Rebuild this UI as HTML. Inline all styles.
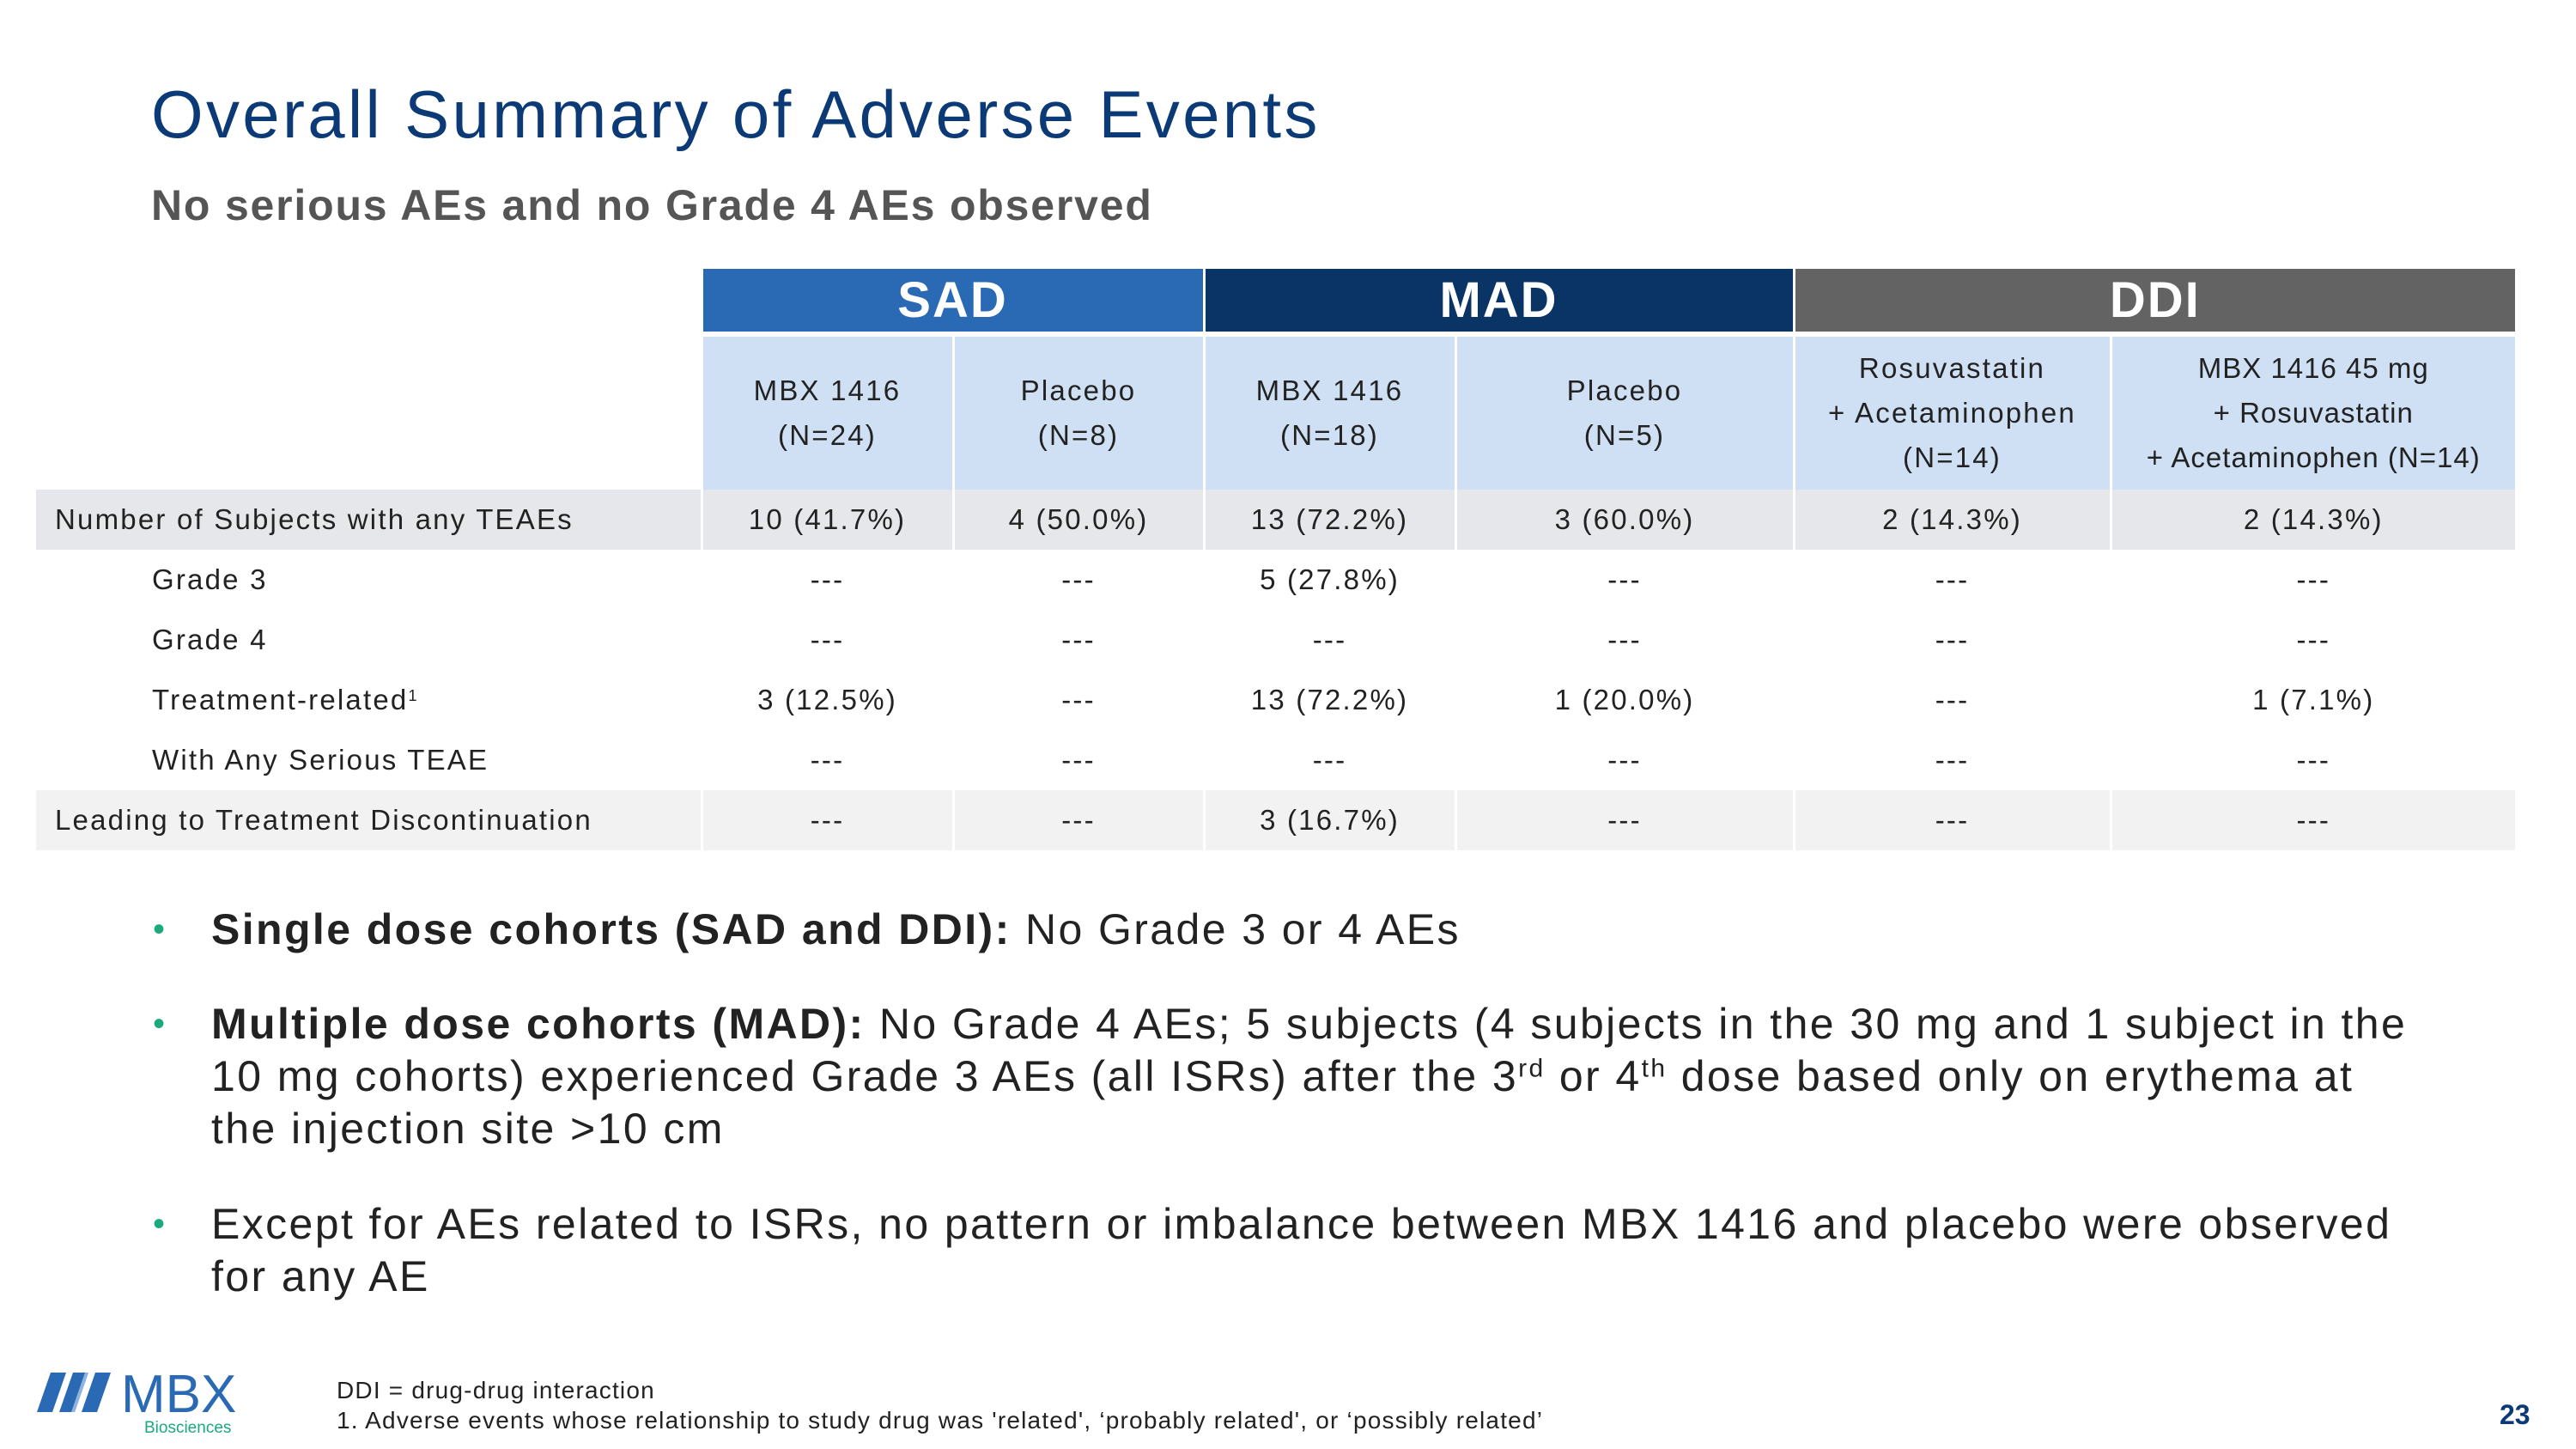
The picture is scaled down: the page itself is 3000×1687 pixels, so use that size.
<!DOCTYPE html>
<html><head><meta charset="utf-8"><style>
body{margin:0;width:3000px;height:1687px;background:#fff;font-family:"Liberation Sans",sans-serif;position:relative;overflow:hidden;color:#222}
.a{position:absolute}
.title{left:176px;top:88px;font-size:78px;color:#0b3a76;white-space:nowrap;letter-spacing:3.3px}
.sub{left:176px;top:210px;font-size:50px;font-weight:bold;color:#555;white-space:nowrap;letter-spacing:1.8px}
table{position:absolute;left:42px;top:313px;width:2887px;border-collapse:collapse;table-layout:fixed}
td{padding:0;text-align:center;font-size:33px;color:#222;border-left:3px solid #fff;letter-spacing:2.2px;white-space:nowrap}
td:first-child{border-left:none}
.grp{height:73px;color:#fff;font-weight:bold;font-size:58px;border-bottom:6px solid #fff;letter-spacing:2px}
.sh td.c{background:#cfe0f4;height:178px;line-height:52px}
.r td{height:70px}
.g td{background:#e6e7ea}
.g2 td{background:#f2f2f2}
.lab{text-align:left;padding-left:22px}
.ind{text-align:left;padding-left:135px}
.bul{left:178px;font-size:50px;color:#222;line-height:61px;width:2800px;letter-spacing:2.4px}
.bul .dot{position:absolute;left:0;color:#1aaa7d;font-size:40px}
.bul .t{margin-left:68px}
sup{line-height:0;vertical-align:0.55em}
.fn{left:392px;font-size:28px;color:#222;white-space:nowrap;letter-spacing:1.2px}
</style></head><body>
<div class="a title">Overall Summary of Adverse Events</div>
<div class="a sub">No serious AEs and no Grade 4 AEs observed</div>
<table>
<colgroup><col style="width:775px"><col style="width:293px"><col style="width:292px"><col style="width:293px"><col style="width:394px"><col style="width:369px"><col style="width:471px"></colgroup>
<tr><td style="background:#fff;border-bottom:none"></td>
<td colspan="2" class="grp" style="background:#2a69b3">SAD</td>
<td colspan="2" class="grp" style="background:#0a3466">MAD</td>
<td colspan="2" class="grp" style="background:#636363">DDI</td></tr>
<tr class="sh"><td></td>
<td class="c">MBX 1416<br>(N=24)</td><td class="c">Placebo<br>(N=8)</td><td class="c">MBX 1416<br>(N=18)</td><td class="c">Placebo<br>(N=5)</td><td class="c">Rosuvastatin<br>+ Acetaminophen<br>(N=14)</td><td class="c" style="letter-spacing:1px">MBX 1416 45 mg<br>+ Rosuvastatin<br>+ Acetaminophen (N=14)</td></tr>
<tr class="r g"><td class="lab">Number of Subjects with any TEAEs</td><td>10 (41.7%)</td><td>4 (50.0%)</td><td>13 (72.2%)</td><td>3 (60.0%)</td><td>2 (14.3%)</td><td>2 (14.3%)</td></tr>
<tr class="r"><td class="ind">Grade 3</td><td>---</td><td>---</td><td>5 (27.8%)</td><td>---</td><td>---</td><td>---</td></tr>
<tr class="r"><td class="ind">Grade 4</td><td>---</td><td>---</td><td>---</td><td>---</td><td>---</td><td>---</td></tr>
<tr class="r"><td class="ind">Treatment-related<sup style="font-size:18px">1</sup></td><td>3 (12.5%)</td><td>---</td><td>13 (72.2%)</td><td>1 (20.0%)</td><td>---</td><td>1 (7.1%)</td></tr>
<tr class="r"><td class="ind">With Any Serious TEAE</td><td>---</td><td>---</td><td>---</td><td>---</td><td>---</td><td>---</td></tr>
<tr class="r g2"><td class="lab">Leading to Treatment Discontinuation</td><td>---</td><td>---</td><td>3 (16.7%)</td><td>---</td><td>---</td><td>---</td></tr>
</table>
<div class="a bul" style="top:1052px"><span class="dot">•</span><div class="t"><b>Single dose cohorts (SAD and DDI):</b> No Grade 3 or 4 AEs</div></div>
<div class="a bul" style="top:1162px"><span class="dot">•</span><div class="t"><b>Multiple dose cohorts (MAD):</b> No Grade 4 AEs; 5 subjects (4 subjects in the 30 mg and 1 subject in the<br>10 mg cohorts) experienced Grade 3 AEs (all ISRs) after the 3<sup style="font-size:30px">rd</sup> or 4<sup style="font-size:30px">th</sup> dose based only on erythema at<br>the injection site &gt;10 cm</div></div>
<div class="a bul" style="top:1395px"><span class="dot">•</span><div class="t">Except for AEs related to ISRs, no pattern or imbalance between MBX 1416 and placebo were observed<br>for any AE</div></div>
<div class="a" style="left:43px;top:1592px">
<svg width="250" height="80" viewBox="0 0 250 80"><polygon points="0,52 16,6 34,6 18,52" fill="#2a69b3"/><polygon points="26,52 42,6 60,6 44,52" fill="#2a69b3"/><polygon points="52,52 68,6 86,6 70,52" fill="#2a69b3"/><polygon points="40,52 56,6 60,6 44,52" fill="#8fb4e0"/>
<text x="98" y="52" font-family="Liberation Sans" font-size="62" fill="#2a69b3">MBX</text>
<text x="125" y="76" font-family="Liberation Sans" font-size="19" fill="#1aaa7d">Biosciences</text></svg></div>
<div class="a fn" style="top:1603px">DDI = drug-drug interaction</div>
<div class="a fn" style="top:1638px">1. Adverse events whose relationship to study drug was 'related', ‘probably related', or ‘possibly related’</div>
<div class="a" style="left:2911px;top:1629px;font-size:32px;font-weight:bold;color:#0b3a76">23</div>
</body></html>
